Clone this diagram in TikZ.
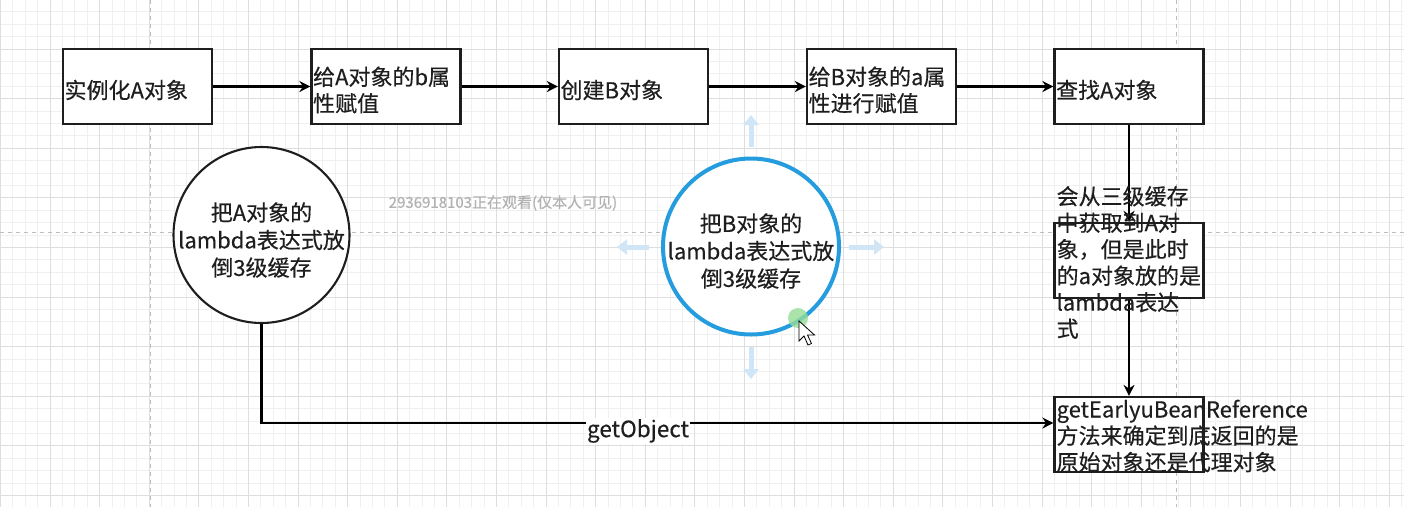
\documentclass[tikz,border=0pt]{standalone}
\usepackage{fontspec}
\setmainfont{Noto Sans CJK SC}[FakeBold=0.35]
\usetikzlibrary{arrows.meta}
\definecolor{selblue}{RGB}{36,156,222}
\definecolor{hoverblue}{RGB}{208,229,246}
\definecolor{majorg}{RGB}{222,222,222}
\definecolor{minorg}{RGB}{240,240,240}
\definecolor{pageg}{RGB}{190,190,190}
\definecolor{greendot}{RGB}{150,222,150}
\definecolor{inkc}{RGB}{30,30,30}
\begin{document}
\begin{tikzpicture}[x=1pt,y=-1pt,
  box/.style={draw=inkc, line width=2.2pt, fill=white, minimum width=149pt, minimum height=75pt, inner sep=0pt},
  circ/.style={circle, draw=inkc, line width=2.1pt, fill=white, minimum size=176pt, inner sep=0pt},
  txt/.style={font=\fontsize{22}{26.5}\selectfont, text=inkc, inner sep=0pt, align=left, anchor=west},
  ctxt/.style={font=\fontsize{22}{27.5}\selectfont, text=inkc, inner sep=0pt, align=center},
  conn/.style={line width=2.5pt, draw=black, -{Stealth[length=11pt,width=11pt,inset=3.5pt]}},
  hover/.style={line width=5pt, draw=hoverblue, -{Triangle[length=10pt,width=15pt]}},
  minorline/.style={draw=minorg, line width=0.8pt},
  majorline/.style={draw=majorg, line width=0.9pt},
  pagebreak/.style={draw=pageg, line width=0.9pt, dash pattern=on 4pt off 4pt}]
\useasboundingbox (0,0) rectangle (1404,507);
\fill[white] (0,0) rectangle (1404,507);
% grid
\foreach \k in {0,...,113} {\draw[minorline] ({0.4+12.4*\k},0) -- ({0.4+12.4*\k},507);}
\foreach \k in {0,...,40} {\draw[minorline] (0,{-0.6+12.4*\k}) -- (1404,{-0.6+12.4*\k});}
\foreach \k in {0,...,28} {\draw[majorline] ({0.4+49.6*\k},0) -- ({0.4+49.6*\k},507);}
\foreach \k in {0,...,10} {\draw[majorline] (0,{-0.6+49.6*\k}) -- (1404,{-0.6+49.6*\k});}
% page breaks
\draw[pagebreak] (0,232) -- (1404,232);
\draw[pagebreak] (150,0) -- (150,507);
\draw[pagebreak] (1176,0) -- (1176,507);
% watermark
\node[font=\fontsize{15}{15}\selectfont, text=black!30, inner sep=0pt] (wm) at (503,203) {2936918103正在观看(仅本人可见)};
% boxes
\node[box] (b1) at (137.5,86.5) {};
\node[box] (b2) at (386,86.5) {};
\node[box] (b3) at (633.5,86.5) {};
\node[box] (b4) at (881.5,86.5) {};
\node[box] (b5) at (1129,86.5) {};
\node[box] (b6) at (1129,260.5) {};
\node[box] (b7) at (1129,434.5) {};
% circles
\node[circ] (cA) at (261.5,235) {};
\node[circ, draw=selblue, line width=4pt] (cB) at (751,246.5) {};
% hover arrows
\draw[hover] (751,147) -- (751,115);
\draw[hover] (751,347) -- (751,379);
\draw[hover] (649,247) -- (617,247);
\draw[hover] (849,247) -- (884,247);
% connectors
\draw[conn] (b1.east) -- (b2.west);
\draw[conn] (b2.east) -- (b3.west);
\draw[conn] (b3.east) -- (b4.west);
\draw[conn] (b4.east) -- (b5.west);
\draw[conn] (b5.south) -- (b6.north);
\draw[conn] (b6.south) -- (b7.north);
\draw[conn] (cA.south) |- ([yshift=11.5pt]b7.west);
\node[fill=white, inner xsep=1pt, inner ysep=1pt, font=\fontsize{22.5}{26}\selectfont, text=inkc] (go) at (638,431) {getObject};
% texts
\node[txt] (t1) at ([xshift=2.5pt,yshift=-3.5pt]b1.west) {实例化A对象};
\node[txt] (t2) at ([xshift=2.5pt,yshift=-3.5pt]b2.west) {给A对象的b属\\性赋值};
\node[txt] (t3) at ([xshift=2.5pt,yshift=-3.5pt]b3.west) {创建B对象};
\node[txt] (t4) at ([xshift=2.5pt,yshift=-3.5pt]b4.west) {给B对象的a属\\性进行赋值};
\node[txt] (t5) at ([xshift=2.5pt,yshift=-3.5pt]b5.west) {查找A对象};
\node[txt] (t6) at ([xshift=3pt,yshift=-2pt]b6.west) {会从三级缓存\\中获取到A对\\象，但是此时\\的a对象放的是\\lambda表达\\式};
\node[txt] (t7) at ([xshift=3pt,yshift=-1.5pt]b7.west) {getEarlyuBeanReference\\方法来确定到底返回的是\\原始对象还是代理对象};
\node[ctxt] (tA) at ([yshift=-5pt]cA.center) {把A对象的\\lambda表达式放\\倒3级缓存};
\node[ctxt] (tB) at ([yshift=-4.5pt]cB.center) {把B对象的\\lambda表达式放\\倒3级缓存};
% hover dot and cursor
\fill[greendot, opacity=0.8] (798,318) circle (10pt);
\filldraw[fill=white, draw=black, line width=0.8pt] (799,321) -- (799,341) -- (804,336) -- (808,345) -- (811.5,343.5) -- (807.5,335) -- (814.5,335) -- cycle;
\end{tikzpicture}
\end{document}
